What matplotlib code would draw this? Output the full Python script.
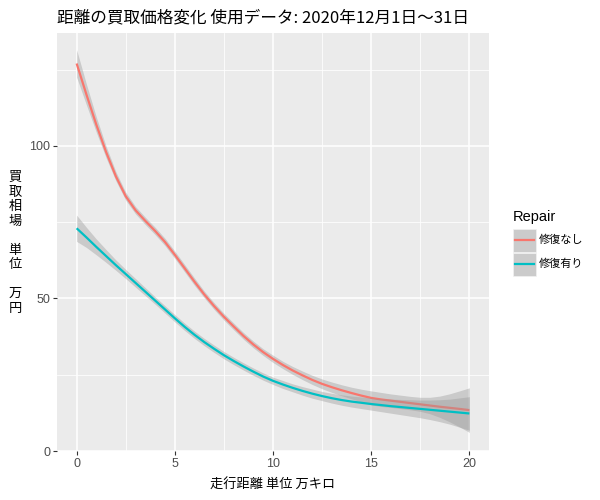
import matplotlib
matplotlib.use("Agg")
import matplotlib.pyplot as plt
from matplotlib.patches import Rectangle
from matplotlib.lines import Line2D
import numpy as np

# ---- data (every 0.5 万キロ) ----
dist = [0, 0.5, 1, 1.5, 2, 2.5, 3, 3.5, 4, 4.5, 5, 5.5, 6, 6.5, 7, 7.5, 8, 8.5, 9, 9.5,
        10, 10.5, 11, 11.5, 12, 12.5, 13, 13.5, 14, 14.5, 15, 15.5, 16, 16.5, 17, 17.5,
        18, 18.5, 19, 19.5, 20]

red_y = [127.0, 116.8, 107.0, 98.0, 90.0, 83.5, 78.9, 75.4, 72.1, 68.5, 64.3, 59.9, 55.5,
         51.3, 47.5, 44.0, 40.8, 37.7, 34.9, 32.4, 30.2, 28.2, 26.4, 24.8, 23.3, 22.0,
         20.9, 19.9, 19.0, 18.15, 17.4, 16.9, 16.5, 16.1, 15.7, 15.3, 14.9, 14.5, 14.15,
         13.8, 13.4]
red_hw = [4.5, 3.4, 2.5, 1.9, 1.5, 1.3, 1.2, 1.2, 1.2, 1.2, 1.2, 1.2, 1.2, 1.1, 1.1, 1.1,
          1.1, 1.1, 1.1, 1.1, 1.2, 1.2, 1.3, 1.4, 1.5, 1.6, 1.7, 1.8, 1.9, 2.1, 2.3, 2.3,
          2.2, 2.2, 2.2, 2.3, 2.7, 3.5, 4.6, 5.9, 7.3]

teal_y = [73.0, 70.0, 66.9, 63.9, 60.9, 58.0, 55.1, 52.2, 49.3, 46.4, 43.5, 40.7, 38.1,
          35.7, 33.5, 31.4, 29.5, 27.7, 26.0, 24.4, 23.0, 21.8, 20.7, 19.7, 18.8, 18.0,
          17.3, 16.7, 16.2, 15.8, 15.4, 15.05, 14.7, 14.4, 14.1, 13.8, 13.5, 13.2, 12.9,
          12.6, 12.3]
teal_hw = [4.3, 3.3, 2.6, 2.1, 1.7, 1.5, 1.4, 1.3, 1.2, 1.2, 1.2, 1.2, 1.2, 1.2, 1.2, 1.2,
           1.2, 1.2, 1.2, 1.2, 1.2, 1.3, 1.3, 1.4, 1.5, 1.5, 1.6, 1.7, 1.8, 1.9, 2.0, 2.15,
           2.3, 2.5, 2.7, 2.9, 3.2, 3.6, 4.1, 4.8, 5.5]

series_names = ["修復なし", "修復有り"]
series_colors = ["#F8766D", "#00BFC4"]
x_ticks = [0, 5, 10, 15, 20]
y_ticks = [0, 50, 100]

title = "距離の買取価格変化 使用データ: 2020年12月1日～31日"
xlabel = "走行距離 単位 万キロ"
ylabel = "買\n取\n相\n場\n\n単\n位\n\n万\n円"
legend_title = "Repair"

JP = ["Noto Sans CJK JP", "DejaVu Sans"]
LAT = ["Liberation Sans", "DejaVu Sans"]

fig = plt.figure(figsize=(6, 5), dpi=100)
ax = fig.add_axes([57/600, 1-451/500, (489-57)/600, (451-33)/500])
ax.set_facecolor("#EBEBEB")

series = [(red_y, red_hw), (teal_y, teal_hw)]
xs = np.array(dist)
for i, ((ys, hw), col) in enumerate(zip(series, series_colors)):
    ys = np.array(ys); hw = np.array(hw)
    ax.fill_between(xs, ys - hw, ys + hw, color="#999999", alpha=0.4,
                    linewidth=0, zorder=3 + 2*i)
    ax.plot(xs, ys, color=col, lw=1.6, zorder=4 + 2*i, solid_capstyle="butt",
            solid_joinstyle="round")

ax.set_xlim(-1, 21)
ax.set_ylim(0, 137)
ax.set_xticks(x_ticks)
ax.set_yticks(y_ticks)
ax.set_xticks([2.5, 7.5, 12.5, 17.5], minor=True)
ax.set_yticks([25, 75, 125], minor=True)
ax.grid(True, which="major", color="white", lw=1.1, zorder=1)
ax.grid(True, which="minor", color="white", lw=0.55, zorder=1)
ax.set_axisbelow(True)
for s in ax.spines.values():
    s.set_visible(False)
ax.tick_params(which="major", length=3, width=0.8, color="#333333",
               labelcolor="#4D4D4D", labelsize=9, pad=2)
ax.tick_params(which="minor", length=0)
for lab in ax.get_xticklabels() + ax.get_yticklabels():
    lab.set_family(LAT)

fig.text(57/600, 1-18/500, title, family=JP, fontsize=12, ha="left", va="center")
fig.text(273/600, 1-485/500, xlabel, family=JP, fontsize=9.5, ha="center", va="center")
fig.text(15/600, 1-243/500, ylabel, family=JP, fontsize=9.5, ha="center", va="center",
         linespacing=1.15)

# legend
fig.text(513/600, 1-217/500, legend_title, family=LAT, fontsize=10.5, ha="left", va="center")
key_tops = [228, 252]
for top, name, col in zip(key_tops, series_names, series_colors):
    fig.patches.append(Rectangle((513/600, 1-(top+24)/500), 23/600, 23/500,
                                 transform=fig.transFigure, facecolor="#CBCBCB",
                                 edgecolor="#F2F2F2", lw=0.5))
    yc = 1-(top+12)/500
    fig.lines.append(Line2D([515/600, 534/600], [yc, yc], transform=fig.transFigure,
                            color=col, lw=1.6))
    fig.text(539/600, yc, name, family=JP, fontsize=8, ha="left", va="center")

fig.savefig("out.png", dpi=100)
